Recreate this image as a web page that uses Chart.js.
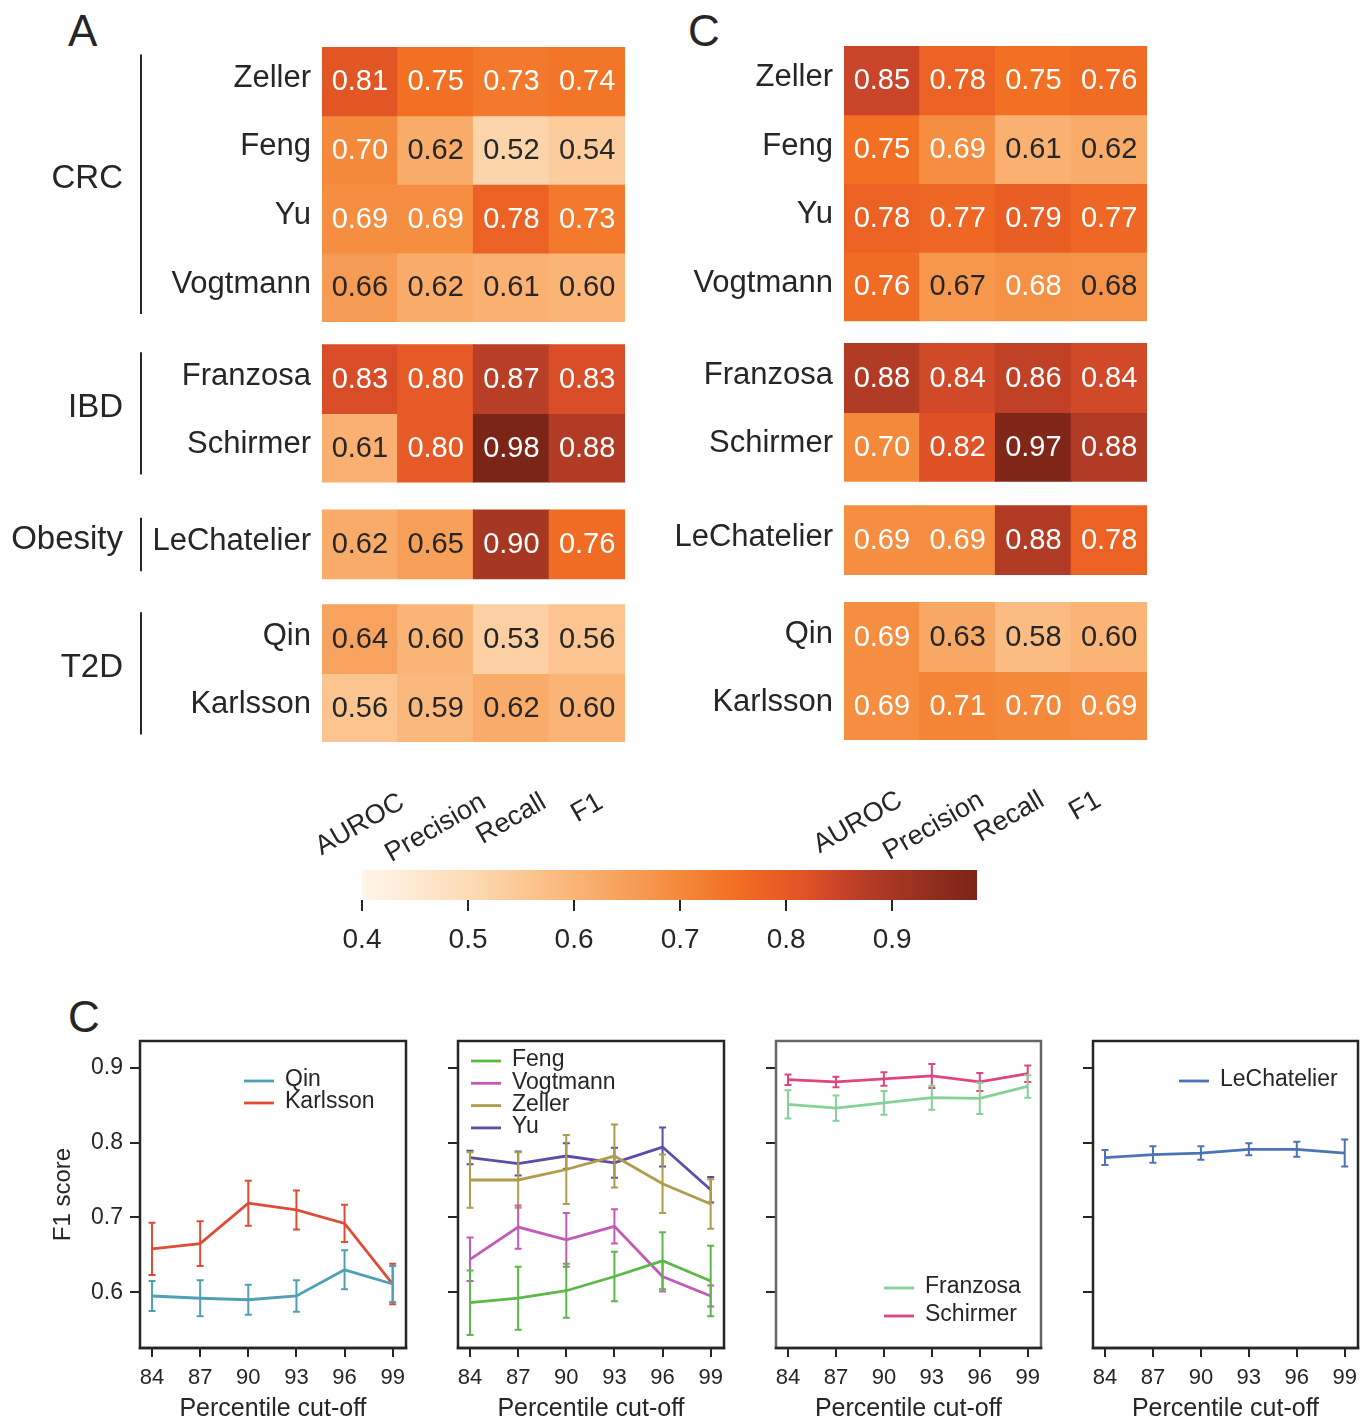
<!DOCTYPE html>
<html>
<head>
<meta charset="utf-8">
<script src="https://cdn.jsdelivr.net/npm/chart.js@4.4.1/dist/chart.umd.min.js"></script>
<style>
  body { margin: 0; background: #fff; width: 1372px; height: 1420px; position: relative; overflow: hidden; }
  .box { position: absolute; }
  .letter { position: absolute; font: 44px "Liberation Sans", Arial, sans-serif; color: #262626; line-height: 44px; }
</style>
</head>
<body>
<div class="letter" style="left:68px;top:9px">A</div>
<div class="letter" style="left:688px;top:9px">C</div>
<div class="letter" style="left:68px;top:995px">C</div>

<div class="box" style="left:0;top:0"><canvas id="heatA" width="650" height="880"></canvas></div>
<div class="box" style="left:650px;top:0"><canvas id="heatC" width="520" height="880"></canvas></div>
<div class="box" style="left:330px;top:855px"><canvas id="cbar" width="680" height="110"></canvas></div>
<div class="box" style="left:40px;top:1030px"><canvas id="p1" width="380" height="394"></canvas></div>
<div class="box" style="left:445px;top:1030px"><canvas id="p2" width="290" height="394"></canvas></div>
<div class="box" style="left:763px;top:1030px"><canvas id="p3" width="290" height="394"></canvas></div>
<div class="box" style="left:1080px;top:1030px"><canvas id="p4" width="292" height="394"></canvas></div>

<script>
// ---- data ----
const metrics = ['AUROC', 'Precision', 'Recall', 'F1'];
const studies = ['Zeller', 'Feng', 'Yu', 'Vogtmann', 'Franzosa', 'Schirmer', 'LeChatelier', 'Qin', 'Karlsson'];
const diseases = ['CRC', 'IBD', 'Obesity', 'T2D'];
const diseaseSizes = [4, 2, 1, 2];

const scoresA = [
  [0.81, 0.75, 0.73, 0.74],
  [0.70, 0.62, 0.52, 0.54],
  [0.69, 0.69, 0.78, 0.73],
  [0.66, 0.62, 0.61, 0.60],
  [0.83, 0.80, 0.87, 0.83],
  [0.61, 0.80, 0.98, 0.88],
  [0.62, 0.65, 0.90, 0.76],
  [0.64, 0.60, 0.53, 0.56],
  [0.56, 0.59, 0.62, 0.60]
];
const scoresC = [
  [0.85, 0.78, 0.75, 0.76],
  [0.75, 0.69, 0.61, 0.62],
  [0.78, 0.77, 0.79, 0.77],
  [0.76, 0.67, 0.683, 0.677],
  [0.88, 0.84, 0.86, 0.84],
  [0.70, 0.82, 0.97, 0.88],
  [0.69, 0.69, 0.88, 0.78],
  [0.69, 0.63, 0.58, 0.60],
  [0.69, 0.71, 0.70, 0.69]
];

const cbMin = 0.4;
const cbMax = Math.max(...scoresA.flat(), ...scoresC.flat());
const cbTicks = [0.4, 0.5, 0.6, 0.7, 0.8, 0.9];

const cutoffs = [84, 87, 90, 93, 96, 99];
const f1Ticks = [0.6, 0.7, 0.8, 0.9];

const f1Qin = [0.595, 0.592, 0.590, 0.595, 0.630, 0.611];
const errQin = [0.020, 0.024, 0.020, 0.021, 0.026, 0.024];
const f1Karlsson = [0.658, 0.665, 0.719, 0.710, 0.692, 0.611];
const errKarlsson = [0.035, 0.030, 0.030, 0.026, 0.025, 0.027];

const f1Feng = [0.586, 0.592, 0.602, 0.621, 0.642, 0.615];
const errFeng = [0.043, 0.042, 0.036, 0.033, 0.038, 0.047];
const f1Vogtmann = [0.644, 0.687, 0.670, 0.688, 0.621, 0.595];
const errVogtmann = [0.029, 0.029, 0.036, 0.023, 0.020, 0.014];
const f1Zeller = [0.750, 0.750, 0.764, 0.782, 0.745, 0.718];
const errZeller = [0.037, 0.037, 0.046, 0.042, 0.039, 0.033];
const f1Yu = [0.780, 0.772, 0.782, 0.773, 0.794, 0.737];
const errYu = [0.009, 0.016, 0.017, 0.020, 0.026, 0.017];

const f1Franzosa = [0.851, 0.846, 0.853, 0.860, 0.859, 0.875];
const errFranzosa = [0.019, 0.017, 0.016, 0.016, 0.021, 0.015];
const f1Schirmer = [0.884, 0.881, 0.885, 0.889, 0.881, 0.892];
const errSchirmer = [0.007, 0.007, 0.009, 0.016, 0.012, 0.011];

const f1LeChatelier = [0.780, 0.784, 0.786, 0.791, 0.791, 0.786];
const errLeChatelier = [0.010, 0.011, 0.009, 0.008, 0.010, 0.018];

// ---- styling ----
const FONT = '"Liberation Sans", Arial, sans-serif';
const INK = '#262626';
Chart.defaults.font.family = FONT;
Chart.defaults.color = INK;

const cmapStops = [0.40, 0.50, 0.60, 0.66, 0.70, 0.75, 0.78, 0.82, 0.85, 0.88, 0.98];
const cmapColors = ['#fff5eb', '#fddcb6', '#fab476', '#f69b53', '#f4893b', '#f27023',
                    '#ec6224', '#df5227', '#c94428', '#b13b25', '#7b2518'];
const textCut = 0.68;

function hexRgb(h) {
  return [parseInt(h.slice(1, 3), 16), parseInt(h.slice(3, 5), 16), parseInt(h.slice(5, 7), 16)];
}
function heatColor(v) {
  if (v <= cmapStops[0]) return cmapColors[0];
  for (let i = 1; i < cmapStops.length; i++) {
    if (v <= cmapStops[i]) {
      const t = (v - cmapStops[i - 1]) / (cmapStops[i] - cmapStops[i - 1]);
      const a = hexRgb(cmapColors[i - 1]), b = hexRgb(cmapColors[i]);
      const c = a.map((x, k) => Math.round(x + (b[k] - x) * t));
      return 'rgb(' + c.join(',') + ')';
    }
  }
  return cmapColors[cmapColors.length - 1];
}

function rowLayout(gaps) {
  const tops = [];
  let y = 0;
  diseaseSizes.forEach((n, gi) => {
    if (gi > 0) y += gaps[gi - 1];
    for (let k = 0; k < n; k++) { tops.push(y); y += 1; }
  });
  return { tops, total: y };
}

function makeHeatmap(id, scores, o) {
  const { tops, total } = rowLayout(o.gaps);

  const cellText = {
    id: 'cellText',
    afterDatasetsDraw(chart) {
      const ctx = chart.ctx;
      ctx.save();
      ctx.font = '29px ' + FONT;
      ctx.textAlign = 'center';
      ctx.textBaseline = 'middle';
      chart.data.datasets.forEach((ds, i) => {
        chart.getDatasetMeta(i).data.forEach((el, j) => {
          const v = ds.values[j];
          ctx.fillStyle = v >= textCut ? '#ffffff' : INK;
          ctx.fillText(v.toFixed(2), el.x, (el.y + el.base) / 2 + 1);
        });
      });
      ctx.restore();
    }
  };

  const colLabels = {
    id: 'colLabels',
    afterDraw(chart) {
      const ctx = chart.ctx, x = chart.scales.x, a = chart.chartArea;
      const th = Math.PI / 6;
      ctx.save();
      ctx.font = '27px ' + FONT;
      ctx.fillStyle = INK;
      ctx.textAlign = 'center';
      ctx.textBaseline = 'middle';
      metrics.forEach((m, i) => {
        const w = ctx.measureText(m).width, h = 26;
        const bh = w * Math.sin(th) + h * Math.cos(th);
        const cx = x.getPixelForValue(i) + o.labelShift;
        const cy = a.bottom + 47 + bh / 2;
        ctx.save();
        ctx.translate(cx, cy);
        ctx.rotate(-th);
        ctx.fillText(m, 0, 0);
        ctx.restore();
      });
      ctx.restore();
    }
  };

  const groupMarks = {
    id: 'groupMarks',
    afterDraw(chart) {
      if (!o.groups) return;
      const ctx = chart.ctx, y = chart.scales.y;
      ctx.save();
      ctx.strokeStyle = INK;
      ctx.lineWidth = 2;
      ctx.fillStyle = INK;
      ctx.font = '33px ' + FONT;
      ctx.textAlign = 'right';
      ctx.textBaseline = 'middle';
      let r = 0;
      diseases.forEach((d, gi) => {
        const first = tops[r], last = tops[r + diseaseSizes[gi] - 1] + 1;
        const y0 = y.getPixelForValue(first + 0.11), y1 = y.getPixelForValue(last - 0.11);
        ctx.beginPath();
        ctx.moveTo(141, y0);
        ctx.lineTo(141, y1);
        ctx.stroke();
        ctx.fillText(d, 123, (y.getPixelForValue(first) + y.getPixelForValue(last)) / 2 - 5);
        r += diseaseSizes[gi];
      });
      ctx.restore();
    }
  };

  const datasets = studies.map((s, i) => ({
    label: s,
    data: metrics.map(() => [tops[i], tops[i] + 1]),
    values: scores[i],
    backgroundColor: scores[i].map(heatColor),
    borderWidth: 0,
    inflateAmount: 0.6,
    grouped: false,
    barPercentage: 1,
    categoryPercentage: 1
  }));

  return new Chart(document.getElementById(id), {
    type: 'bar',
    data: { labels: metrics, datasets },
    options: {
      responsive: false,
      animation: false,
      layout: { padding: o.pad },
      scales: {
        x: { display: false },
        y: {
          min: 0, max: total, reverse: true,
          afterFit: s => { s.width = o.axisWidth; },
          afterBuildTicks: s => { s.ticks = tops.map(t => ({ value: t + 0.5 })); },
          ticks: {
            autoSkip: false, padding: 3, labelOffset: -3,
            font: { size: 31 }, color: INK,
            callback: (v, i) => studies[i]
          },
          grid: { display: false },
          border: { display: false }
        }
      },
      plugins: { legend: { display: false }, tooltip: { enabled: false } }
    },
    plugins: [cellText, colLabels, groupMarks]
  });
}

makeHeatmap('heatA', scoresA, {
  gaps: [0.34, 0.41, 0.38], axisWidth: 322, labelShift: 0, groups: true,
  pad: { top: 47, right: 25, bottom: 138, left: 0 }
});
makeHeatmap('heatC', scoresC, {
  gaps: [0.335, 0.36, 0.41], axisWidth: 194, labelShift: -24, groups: false,
  pad: { top: 46, right: 23, bottom: 140, left: 0 }
});

// ---- colour bar ----
new Chart(document.getElementById('cbar'), {
  type: 'bar',
  data: {
    labels: [''],
    datasets: [{
      data: [[cbMin, cbMax]],
      backgroundColor: c => {
        const a = c.chart.chartArea;
        if (!a) return cmapColors[5];
        const g = c.chart.ctx.createLinearGradient(a.left, 0, a.right, 0);
        cmapStops.forEach((s, i) => {
          const f = (s - cbMin) / (cbMax - cbMin);
          if (f >= 0 && f <= 1) g.addColorStop(f, cmapColors[i]);
        });
        return g;
      },
      borderWidth: 0,
      barPercentage: 1,
      categoryPercentage: 1
    }]
  },
  options: {
    indexAxis: 'y',
    responsive: false,
    animation: false,
    layout: { padding: { left: 32, right: 33, top: 15, bottom: 0 } },
    scales: {
      x: {
        type: 'linear', min: cbMin, max: cbMax,
        afterBuildTicks: s => { s.ticks = cbTicks.map(v => ({ value: v })); },
        afterFit: s => { s.height = 65; },
        ticks: { font: { size: 28 }, padding: 12, color: INK, maxRotation: 0, callback: v => v.toFixed(1) },
        grid: { drawOnChartArea: false, tickLength: 11, color: INK, lineWidth: 2 },
        border: { display: false }
      },
      y: { display: false }
    },
    plugins: { legend: { display: false }, tooltip: { enabled: false } }
  }
});

// ---- line panels ----
const xMin = 83.25, xMax = 99.83, yMin = 0.5255, yMax = 0.9357;

const errorBars = {
  id: 'errorBars',
  afterDatasetDraw(chart, args) {
    const ds = chart.data.datasets[args.index];
    if (!ds.err) return;
    const y = chart.scales.y, ctx = chart.ctx;
    ctx.save();
    ctx.strokeStyle = ds.borderColor;
    ctx.lineWidth = 2;
    args.meta.data.forEach((pt, i) => {
      const v = ds.data[i].y, e = ds.err[i];
      const y1 = y.getPixelForValue(v + e), y2 = y.getPixelForValue(v - e);
      ctx.beginPath();
      ctx.moveTo(pt.x, y1); ctx.lineTo(pt.x, y2);
      ctx.moveTo(pt.x - 3.5, y1); ctx.lineTo(pt.x + 3.5, y1);
      ctx.moveTo(pt.x - 3.5, y2); ctx.lineTo(pt.x + 3.5, y2);
      ctx.stroke();
    });
    ctx.restore();
  }
};

const frame = {
  id: 'frame',
  afterDraw(chart, args, o) {
    const { left, right, top, bottom } = chart.chartArea, ctx = chart.ctx;
    ctx.save();
    ctx.lineWidth = 2.5;
    ctx.strokeStyle = o.color;
    ctx.strokeRect(left, top, right - left, bottom - top);
    ctx.strokeStyle = o.bottomColor;
    ctx.beginPath();
    ctx.moveTo(left - 1.25, bottom);
    ctx.lineTo(right + 1.25, bottom);
    ctx.stroke();
    ctx.restore();
  }
};

const legendBox = {
  id: 'legendBox',
  afterDraw(chart, args, o) {
    const a = chart.chartArea, ctx = chart.ctx;
    ctx.save();
    ctx.font = '23px ' + FONT;
    ctx.textBaseline = 'middle';
    ctx.lineWidth = 2.8;
    chart.data.datasets.forEach((ds, k) => {
      const x = a.left + o.x, y = a.top + o.y + k * o.step;
      ctx.strokeStyle = ds.borderColor;
      ctx.beginPath();
      ctx.moveTo(x, y); ctx.lineTo(x + 30, y);
      ctx.stroke();
      ctx.fillStyle = INK;
      ctx.fillText(ds.label, x + 41, y - 1);
    });
    ctx.restore();
  }
};

function makeLinePanel(id, series, o) {
  return new Chart(document.getElementById(id), {
    type: 'line',
    data: {
      datasets: series.map(s => ({
        label: s.label,
        data: cutoffs.map((c, i) => ({ x: c, y: s.values[i] })),
        err: s.err,
        borderColor: s.color,
        backgroundColor: s.color,
        borderWidth: 2.8,
        pointRadius: 0,
        tension: 0
      }))
    },
    options: {
      responsive: false,
      animation: false,
      layout: { padding: { top: 11, right: o.right, left: 0, bottom: 0 } },
      scales: {
        x: {
          type: 'linear', min: xMin, max: xMax,
          afterBuildTicks: s => { s.ticks = cutoffs.map(v => ({ value: v })); },
          afterFit: s => { s.height = 76; s.paddingLeft = 0; s.paddingRight = 0; },
          ticks: { font: { size: 22 }, color: INK, padding: 8, maxRotation: 0 },
          grid: { drawOnChartArea: false, tickLength: 9, color: INK, lineWidth: 2 },
          border: { display: false },
          title: { display: true, text: 'Percentile cut-off', font: { size: 25 }, color: INK, padding: { top: 0, bottom: 0 } }
        },
        y: {
          min: yMin, max: yMax,
          afterBuildTicks: s => { s.ticks = f1Ticks.map(v => ({ value: v })); },
          afterFit: s => { s.width = o.axisWidth; s.paddingTop = 0; s.paddingBottom = 0; },
          ticks: { display: o.showY, font: { size: 23 }, padding: 7, color: INK, callback: v => v.toFixed(1) },
          grid: { drawOnChartArea: false, tickLength: 10, color: INK, lineWidth: 2 },
          border: { display: false },
          title: { display: o.showY, text: 'F1 score', font: { size: 24 }, color: INK, padding: { top: 9, bottom: 0 } }
        }
      },
      plugins: {
        legend: { display: false },
        tooltip: { enabled: false },
        frame: { color: o.frameColor, bottomColor: INK },
        legendBox: o.legend
      }
    },
    plugins: [errorBars, frame, legendBox]
  });
}

makeLinePanel('p1', [
  { label: 'Qin', values: f1Qin, err: errQin, color: '#4fa0b4' },
  { label: 'Karlsson', values: f1Karlsson, err: errKarlsson, color: '#e04b35' }
], { showY: true, axisWidth: 100, right: 14, frameColor: INK, legend: { x: 104, y: 40, step: 22 } });

makeLinePanel('p2', [
  { label: 'Feng', values: f1Feng, err: errFeng, color: '#5cb848' },
  { label: 'Vogtmann', values: f1Vogtmann, err: errVogtmann, color: '#c25ab9' },
  { label: 'Zeller', values: f1Zeller, err: errZeller, color: '#b09c4a' },
  { label: 'Yu', values: f1Yu, err: errYu, color: '#5a4ea6' }
], { showY: false, axisWidth: 13, right: 11, frameColor: INK, legend: { x: 13, y: 20, step: 22.3 } });

makeLinePanel('p3', [
  { label: 'Franzosa', values: f1Franzosa, err: errFranzosa, color: '#86d198' },
  { label: 'Schirmer', values: f1Schirmer, err: errSchirmer, color: '#e0457f' }
], { showY: false, axisWidth: 13, right: 12, frameColor: '#666666', legend: { x: 108, y: 247, step: 28 } });

makeLinePanel('p4', [
  { label: 'LeChatelier', values: f1LeChatelier, err: errLeChatelier, color: '#4a73b8' }
], { showY: false, axisWidth: 13, right: 14, frameColor: INK, legend: { x: 86, y: 40, step: 22 } });
</script>
</body>
</html>
